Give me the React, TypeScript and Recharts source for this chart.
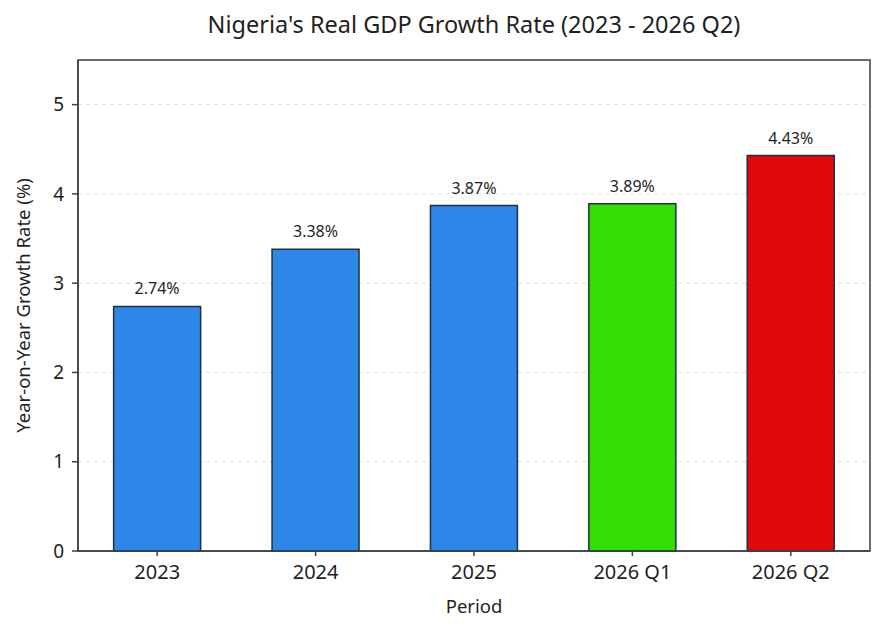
import React from "react";
import {
  BarChart,
  Bar,
  Cell,
  XAxis,
  YAxis,
  CartesianGrid,
  LabelList,
  ReferenceArea,
} from "recharts";

// Chart data
const periods = ["2023", "2024", "2025", "2026 Q1", "2026 Q2"];
const growthRates = [2.74, 3.38, 3.87, 3.89, 4.43];
const yTicks = [0, 1, 2, 3, 4, 5];

const barColors = ["#2c87e8", "#2c87e8", "#2c87e8", "#33dd06", "#e00808"];

const FONT = "'Noto Sans', 'DejaVu Sans', sans-serif";
const AXIS_COLOR = "#37424a";
const TEXT_COLOR = "#1f1f1f";

const chartData = periods.map((period, i) => ({
  period,
  growth: growthRates[i],
}));

export default function App() {
  const YLabel = ({ viewBox }: any) => {
    const cx = viewBox.x + 22;
    const cy = viewBox.y + viewBox.height / 2;
    return (
      <text
        x={cx}
        y={cy}
        transform={`rotate(-90 ${cx} ${cy})`}
        textAnchor="middle"
        dominantBaseline="central"
        fontSize={18.5}
        fill={TEXT_COLOR}
        fontFamily={FONT}
      >
        Year-on-Year Growth Rate (%)
      </text>
    );
  };

  const XLabel = ({ viewBox }: any) => (
    <text
      x={viewBox.x + viewBox.width / 2}
      y={viewBox.y + 62}
      textAnchor="middle"
      fontSize={18.5}
      fill={TEXT_COLOR}
      fontFamily={FONT}
    >
      Period
    </text>
  );

  return (
    <div
      style={{
        position: "absolute",
        left: 0,
        top: 0,
        width: 886,
        height: 634,
        background: "#fff",
        fontFamily: FONT,
      }}
    >
      <div
        style={{
          position: "absolute",
          top: 13,
          left: 78,
          width: 792,
          textAlign: "center",
          fontSize: 23.5,
          lineHeight: "23.5px",
          color: TEXT_COLOR,
          whiteSpace: "nowrap",
        }}
      >
        Nigeria's Real GDP Growth Rate (2023 - 2026 Q2)
      </div>
      <BarChart
        width={886}
        height={634}
        data={chartData}
        margin={{ top: 60, right: 16, left: 0, bottom: 0 }}
        barCategoryGap="22.5%"
        style={{ position: "absolute", left: 0, top: 0 }}
      >
        <CartesianGrid
          vertical={false}
          strokeDasharray="4 4"
          stroke="#dedede"
        />
        {/* frame round the plot area */}
        <ReferenceArea
          y1={0}
          y2={5.5}
          fill="none"
          stroke={AXIS_COLOR}
          strokeWidth={1.5}
        />
        <XAxis
          dataKey="period"
          height={83}
          tickSize={5}
          tickMargin={9}
          stroke={AXIS_COLOR}
          strokeWidth={1.5}
          tick={{ fontSize: 20, fill: TEXT_COLOR, fontFamily: FONT }}
          label={<XLabel />}
        />
        <YAxis
          width={78}
          domain={[0, 5.5]}
          ticks={yTicks}
          tickSize={6}
          tickMargin={8}
          stroke={AXIS_COLOR}
          strokeWidth={1.5}
          tick={{ fontSize: 19, fill: TEXT_COLOR, fontFamily: FONT }}
          label={<YLabel />}
        />
        <Bar
          dataKey="growth"
          stroke="#22303a"
          strokeWidth={1.5}
          isAnimationActive={false}
        >
          {chartData.map((_, i) => (
            <Cell key={i} fill={barColors[i]} />
          ))}
          <LabelList
            dataKey="growth"
            position="top"
            offset={12}
            formatter={(v: any) => `${Number(v).toFixed(2)}%`}
            style={{ fontSize: 16, fill: TEXT_COLOR, fontFamily: FONT }}
          />
        </Bar>
      </BarChart>
    </div>
  );
}
